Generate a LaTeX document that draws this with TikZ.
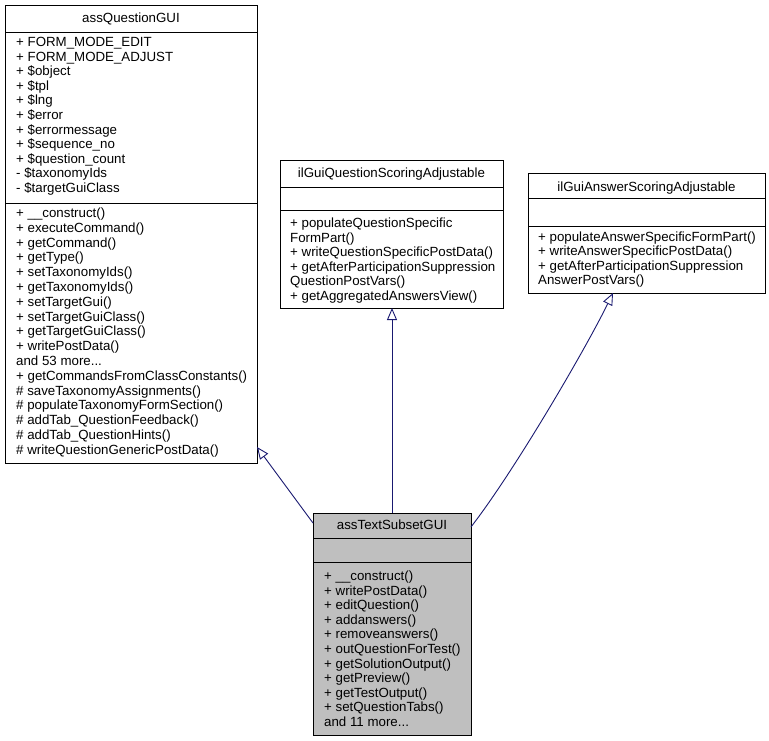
\documentclass[tikz,border=0pt]{standalone}
\usepackage{fontspec}
\setmainfont{Liberation Sans}
\usetikzlibrary{arrows.meta}
\definecolor{edgeblue}{HTML}{191970}
\definecolor{subfill}{HTML}{BFBFBF}
\newcommand\tdots{...}
\begin{document}
\begin{tikzpicture}[x=1pt,y=-1pt,
  box/.style={draw=black, line width=0.9pt, inner sep=0pt, outer sep=0pt, rectangle},
  sep/.style={draw=black, line width=0.9pt},
  txt/.style={anchor=base west, inner sep=0pt, font=\fontsize{13.3}{14.6}\selectfont},
  ttl/.style={anchor=base, inner sep=0pt, font=\fontsize{13.3}{14.6}\selectfont},
  inh/.style={draw=edgeblue, line width=0.9pt, -{Triangle[open, length=12pt, width=10pt, fill=white]}}]
\useasboundingbox (0,0) rectangle (769,741);

% assQuestionGUI
\node[box, minimum width=252pt, minimum height=458pt] (qgui) at (131,234) {};
\draw[sep] (5,32) -- (257,32);
\draw[sep] (5,203) -- (257,203);
\node[ttl] (qguit) at (131,23) {assQuestionGUI};
\foreach \t [count=\i from 0] in {+ FORM\_MODE\_EDIT, + FORM\_MODE\_ADJUST, + \$object, + \$tpl, + \$lng, + \$error, + \$errormessage, + \$sequence\_no, + \$question\_count, - \$taxonomyIds, - \$targetGuiClass}
  \node[txt] (qa\i) at (16, 46.5+14.6*\i) {\t};
\foreach \t [count=\i from 0] in {+ \_\_construct(), + executeCommand(), + getCommand(), + getType(), + setTaxonomyIds(), + getTaxonomyIds(), + setTargetGui(), + setTargetGuiClass(), + getTargetGuiClass(), + writePostData(), and 53 more\tdots, + getCommandsFromClassConstants(), \# saveTaxonomyAssignments(), \# populateTaxonomyFormSection(), \# addTab\_QuestionFeedback(), \# addTab\_QuestionHints(), \# writeQuestionGenericPostData()}
  \node[txt] (qm\i) at (16, 217.5+14.8*\i) {\t};

% ilGuiQuestionScoringAdjustable
\node[box, minimum width=223pt, minimum height=148pt] (qsa) at (391.5,234) {};
\draw[sep] (280,187) -- (503,187);
\draw[sep] (280,210) -- (503,210);
\node[ttl] (qsat) at (391.5,178) {ilGuiQuestionScoringAdjustable};
\foreach \t [count=\i from 0] in {+ populateQuestionSpecific, FormPart(), + writeQuestionSpecificPostData(), + getAfterParticipationSuppression, QuestionPostVars(), + getAggregatedAnswersView()}
  \node[txt] (qsm\i) at (290, 227.5+14.5*\i) {\t};

% ilGuiAnswerScoringAdjustable
\node[box, minimum width=237pt, minimum height=120pt] (asa) at (646.5,233) {};
\draw[sep] (528,198) -- (765,198);
\draw[sep] (528,226) -- (765,226);
\node[ttl] (asat) at (646.5,191.5) {ilGuiAnswerScoringAdjustable};
\foreach \t [count=\i from 0] in {+ populateAnswerSpecificFormPart(), + writeAnswerSpecificPostData(), + getAfterParticipationSuppression, AnswerPostVars()}
  \node[txt] (asm\i) at (538, 241.5+14.4*\i) {\t};

% assTextSubsetGUI
\node[box, fill=subfill, minimum width=158pt, minimum height=222pt] (sub) at (392,624) {};
\draw[sep] (313,538) -- (471,538);
\draw[sep] (313,562) -- (471,562);
\node[ttl] (subt) at (392,529.5) {assTextSubsetGUI};
\foreach \t [count=\i from 0] in {+ \_\_construct(), + writePostData(), + editQuestion(), + addanswers(), + removeanswers(), + outQuestionForTest(), + getSolutionOutput(), + getPreview(), + getTestOutput(), + setQuestionTabs(), and 11 more\tdots}
  \node[txt] (sm\i) at (324, 580.5+14.6*\i) {\t};

% inheritance connectors
\coordinate (s1) at ([yshift=-10pt]sub.north west);
\coordinate (t1) at ([yshift=16pt]qgui.south east);
\coordinate (s3) at ([yshift=-14pt]sub.north east);
\coordinate (t3) at ([xshift=-33.5pt]asa.south);
\draw[inh] (s1) -- (t1);
\draw[inh] (sub.north) -- (sub.north |- qsa.south);
\draw[inh] (s3) .. controls (515,470) and (585,350) .. (t3);
\end{tikzpicture}
\end{document}
